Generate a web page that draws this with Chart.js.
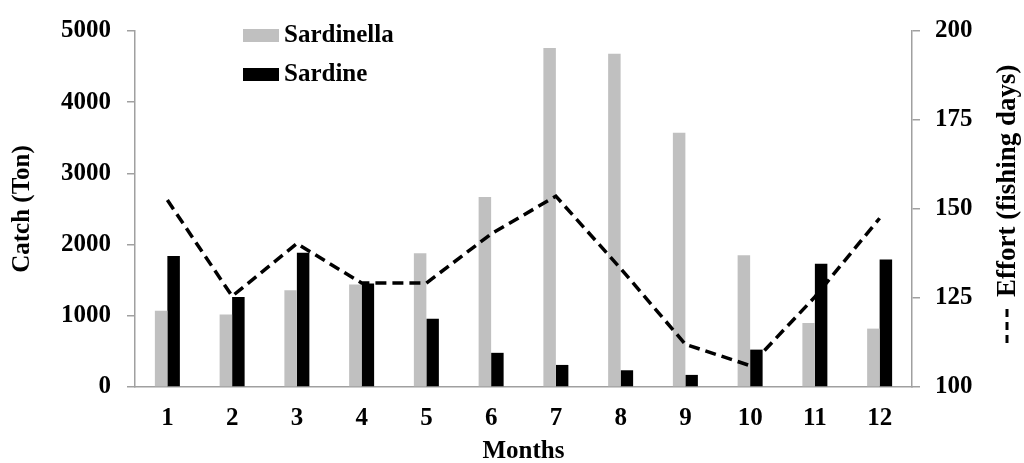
<!DOCTYPE html>
<html>
<head>
	<meta charset="utf-8">
	<title>Monthly catch and fishing effort</title>
	<script src="https://cdn.jsdelivr.net/npm/chart.js@4.4.1/dist/chart.umd.min.js"></script>
	<style>
		html, body { margin: 0; padding: 0; background: #fff; }
		#wrap { width: 1024px; height: 463px; }
	</style>
</head>
<body>
<div id="wrap">
	<canvas id="graph" width="1024" height="463"></canvas>
</div>
<script>
	const months = ['1', '2', '3', '4', '5', '6', '7', '8', '9', '10', '11', '12'];
	const sardinella = [1070, 1020, 1360, 1440, 1880, 2670, 4760, 4680, 3570, 1850, 900, 820];
	const sardine = [1840, 1265, 1885, 1455, 960, 480, 310, 235, 170, 525, 1730, 1790];
	const effort = [152.5, 125.5, 140.3, 129.2, 129.2, 143, 153.6, 133.3, 112, 106, 125.3, 147.4];
	const catchTicks = [0, 1000, 2000, 3000, 4000, 5000];
	const effortTicks = [100, 125, 150, 175, 200];

	const serif = 'Liberation Serif';
	const axisGrey = '#a0a0a0';
	const dash = [11, 6];

	// legend in the upper left of the plot, and the right-hand title read bottom to top
	const extras = {
		id: 'extras',
		afterDraw(chart) {
			const ctx = chart.ctx;
			ctx.save();
			ctx.font = 'bold 25px "' + serif + '"';
			ctx.textBaseline = 'middle';
			ctx.textAlign = 'left';
			const bars = chart.data.datasets.filter(d => d.type === 'bar');
			bars.forEach((d, i) => {
				const y = 29 + i * 39;
				ctx.fillStyle = d.backgroundColor;
				ctx.fillRect(243, y, 36, 13);
				ctx.fillStyle = '#000';
				ctx.fillText(d.label, 284, y + 7);
			});

			ctx.translate(1007, 0);
			ctx.rotate(-Math.PI / 2);
			ctx.strokeStyle = '#000';
			ctx.lineWidth = 3;
			ctx.setLineDash([8, 5]);
			ctx.beginPath();
			ctx.moveTo(-343, 0);
			ctx.lineTo(-305, 0);
			ctx.stroke();
			ctx.font = 'bold 27px "' + serif + '"';
			ctx.fillStyle = '#000';
			ctx.fillText('Effort (fishing days)', -297, 1);
			ctx.restore();
		}
	};

	const tickFont = { family: serif, size: 25, weight: 'bold' };
	const plain = v => String(v);

	new Chart(document.getElementById('graph'), {
		data: {
			labels: months,
			datasets: [
				{
					type: 'line',
					label: 'Effort',
					data: effort,
					yAxisID: 'y1',
					borderColor: '#000',
					borderWidth: 3.5,
					borderDash: dash,
					pointRadius: 0,
					tension: 0,
					fill: false,
					order: 0
				},
				{
					type: 'bar',
					label: 'Sardinella',
					data: sardinella,
					yAxisID: 'y',
					backgroundColor: '#c0c0c0',
					barPercentage: 1,
					categoryPercentage: 0.386,
					order: 1
				},
				{
					type: 'bar',
					label: 'Sardine',
					data: sardine,
					yAxisID: 'y',
					backgroundColor: '#000',
					barPercentage: 1,
					categoryPercentage: 0.386,
					order: 1
				}
			]
		},
		options: {
			responsive: false,
			animation: false,
			devicePixelRatio: 1,
			layout: { padding: { top: 26, left: 0, right: 0, bottom: 0 } },
			plugins: {
				legend: { display: false },
				tooltip: { enabled: false }
			},
			scales: {
				x: {
					offset: true,
					grid: { display: false, drawTicks: false },
					border: { display: true, color: axisGrey, width: 1.5 },
					ticks: { color: '#000', padding: 17, font: tickFont },
					title: {
						display: true,
						text: 'Months',
						color: '#000',
						padding: { top: 0, bottom: 0 },
						font: { family: serif, size: 25, weight: 'bold', lineHeight: 0.9 }
					},
					afterFit(scale) { scale.height = 76; }
				},
				y: {
					position: 'left',
					min: 0,
					max: 5000,
					afterBuildTicks(scale) { scale.ticks = catchTicks.map(v => ({ value: v })); },
					grid: { drawOnChartArea: false, drawTicks: true, tickLength: 8, color: axisGrey, lineWidth: 1.5 },
					border: { display: true, color: axisGrey, width: 1.5 },
					ticks: { color: '#000', padding: 16, font: tickFont, callback: plain },
					title: {
						display: true,
						text: 'Catch (Ton)',
						color: '#000',
						padding: { top: 8, bottom: 0 },
						font: tickFont
					},
					afterFit(scale) { scale.width = 135; }
				},
				y1: {
					position: 'right',
					min: 100,
					max: 200,
					afterBuildTicks(scale) { scale.ticks = effortTicks.map(v => ({ value: v })); },
					grid: { drawOnChartArea: false, drawTicks: true, tickLength: 8, color: axisGrey, lineWidth: 1.5 },
					border: { display: true, color: axisGrey, width: 1.5 },
					ticks: { color: '#000', padding: 15, font: tickFont, callback: plain },
					afterFit(scale) { scale.width = 112; }
				}
			}
		},
		plugins: [extras]
	});
</script>
</body>
</html>
